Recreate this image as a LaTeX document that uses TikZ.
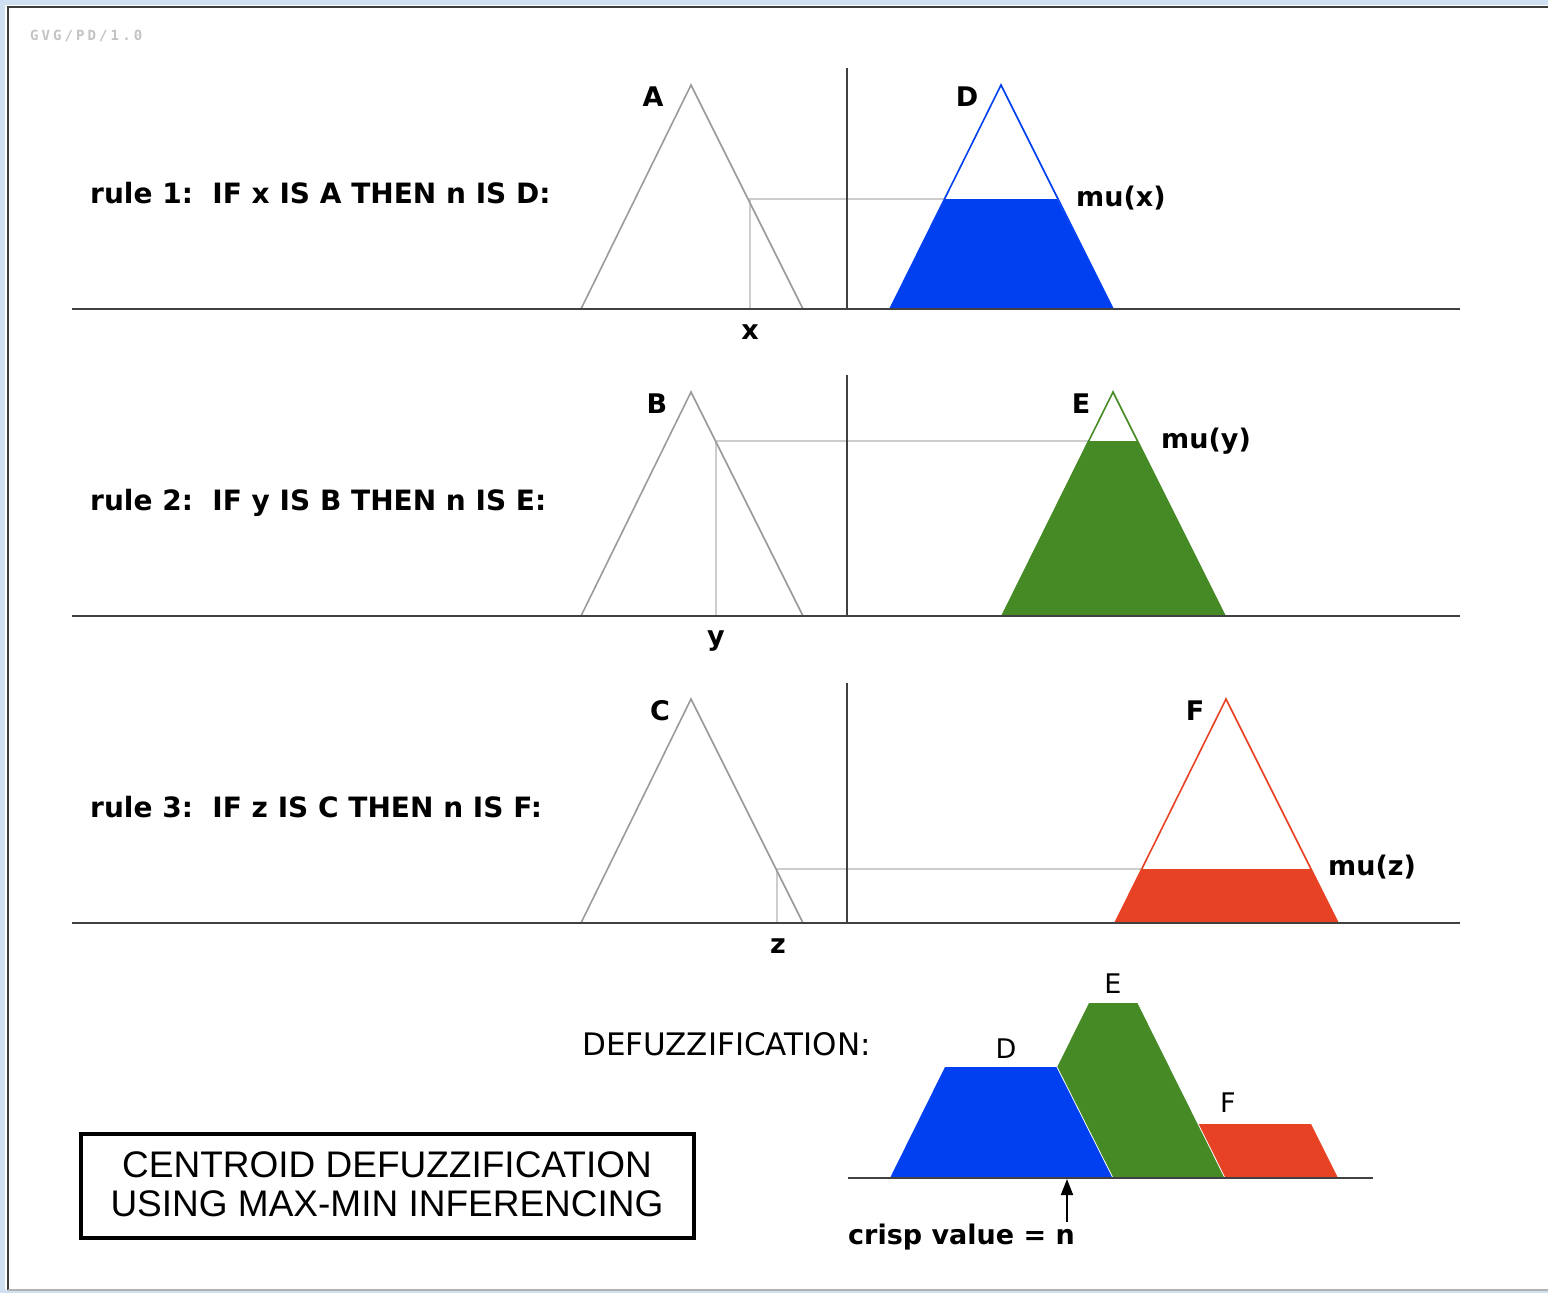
\documentclass[tikz,border=0pt]{standalone}
\usepackage{fontspec}
\setmainfont{DejaVu Sans}
\newfontfamily\boxfont{Liberation Sans}
\newfontfamily\stampfont[LetterSpace=22]{DejaVu Sans Mono}
\usetikzlibrary{arrows.meta}

\definecolor{fzblue}{RGB}{0,64,240}
\definecolor{fzgreen}{RGB}{70,138,38}
\definecolor{fzred}{RGB}{232,66,36}
\definecolor{winblue}{RGB}{207,224,243}
\definecolor{framegray}{RGB}{60,60,60}
\definecolor{axisgray}{RGB}{65,65,65}
\definecolor{setgray}{RGB}{155,155,155}
\definecolor{projgray}{RGB}{205,205,205}
\definecolor{stampgray}{RGB}{195,195,195}

\begin{document}
\begin{tikzpicture}[x=1pt,y=-1pt,
  lbl/.style={font=\fontsize{27}{32}\selectfont\bfseries, inner sep=0pt, anchor=base},
  lblw/.style={lbl, anchor=base west},
  rulelbl/.style={lblw, font=\fontsize{28}{32}\selectfont\bfseries},
  axis/.style={draw=axisgray, line width=2.5pt},
  divider/.style={draw=axisgray, line width=2.8pt},
  setline/.style={draw=setgray, line width=1.6pt, line join=miter},
  proj/.style={draw=projgray, line width=1.6pt},
  outline/.style={line width=1.6pt, line join=miter},
]
% window background and frame
\useasboundingbox (0,0) rectangle (1548,1293);
\fill[winblue] (0,0) rectangle (1548,1293);
\fill[white] (5,5) rectangle (1548,1290);
\draw[framegray, line width=2.2pt] (8,1290) -- (8,7) -- (1548,7);
\draw[gray!60, line width=1.2pt] (8,1290) -- (1548,1290);
\node[font=\stampfont\bfseries\fontsize{14}{16}\selectfont, text=stampgray, inner sep=0pt, anchor=base west] (stamp) at (30,40) {GVG/PD/1.0};

% ---------------- rule 1 ----------------
\coordinate (x1) at (750,309);
\coordinate (x1top) at (750,199);
\coordinate (mu1) at (945,199);
\draw[proj] (x1) -- (x1top) -- (mu1);
\fill[fzblue] (890,309) -- (945,199) -- (1057,199) -- (1113,309) -- cycle;
\draw[fzblue, outline] (890,309) -- (1001,85) -- (1113,309);
\draw[setline] (581,309) -- (691,85) -- (803,309);
\coordinate (d1t) at (847,68); \coordinate (d1b) at (847,309);
\draw[divider] (d1t) -- (d1b);
\coordinate (b1l) at (72,309); \coordinate (b1r) at (1460,309);
\draw[axis] (b1l) -- (b1r);
\node[rulelbl] (rule1) at (90,203) {rule 1:\ \ IF x IS A THEN n IS D:};
\node[lbl] (setA) at (653,106) {A};
\node[lbl] (setD) at (967,106) {D};
\node[lblw] (mux) at (1076,206) {mu(x)};
\node[lbl] (inx) at (750,339) {x};

% ---------------- rule 2 ----------------
\coordinate (y2) at (716,616);
\coordinate (y2top) at (716,441);
\coordinate (mu2) at (1088,441);
\draw[proj] (y2) -- (y2top) -- (mu2);
\fill[fzgreen] (1002,616) -- (1088,441) -- (1138,441) -- (1225,616) -- cycle;
\draw[fzgreen, outline] (1002,616) -- (1113,392) -- (1225,616);
\draw[setline] (581,616) -- (691,392) -- (803,616);
\coordinate (d2t) at (847,375); \coordinate (d2b) at (847,616);
\draw[divider] (d2t) -- (d2b);
\coordinate (b2l) at (72,616); \coordinate (b2r) at (1460,616);
\draw[axis] (b2l) -- (b2r);
\node[rulelbl] (rule2) at (90,510) {rule 2:\ \ IF y IS B THEN n IS E:};
\node[lbl] (setB) at (657,413) {B};
\node[lbl] (setE) at (1081,413) {E};
\node[lblw] (muy) at (1161,448) {mu(y)};
\node[lbl] (iny) at (716,645) {y};

% ---------------- rule 3 ----------------
\coordinate (z3) at (777,923);
\coordinate (z3top) at (777,869);
\coordinate (mu3) at (1142,869);
\draw[proj] (z3) -- (z3top) -- (mu3);
\fill[fzred] (1115,923) -- (1142,869) -- (1311,869) -- (1338,923) -- cycle;
\draw[fzred, outline] (1115,923) -- (1226,699) -- (1338,923);
\draw[setline] (581,923) -- (691,699) -- (803,923);
\coordinate (d3t) at (847,683); \coordinate (d3b) at (847,923);
\draw[divider] (d3t) -- (d3b);
\coordinate (b3l) at (72,923); \coordinate (b3r) at (1460,923);
\draw[axis] (b3l) -- (b3r);
\node[rulelbl] (rule3) at (90,817) {rule 3:\ \ IF z IS C THEN n IS F:};
\node[lbl] (setC) at (660,720) {C};
\node[lbl] (setF) at (1195,720) {F};
\node[lblw] (muz) at (1328,875) {mu(z)};
\node[lbl] (inz) at (778,953) {z};

% ---------------- defuzzification ----------------
\fill[fzred] (1115,1178) -- (1142,1124) -- (1311,1124) -- (1338,1178) -- cycle;
\fill[fzgreen] (1002,1178) -- (1089,1003) -- (1138,1003) -- (1225,1178) -- cycle;
\draw[white, line width=0.8pt] (1138,1003) -- (1225,1178);
\fill[fzblue] (890,1178) -- (945,1067) -- (1057,1067) -- (1113,1178) -- cycle;
\draw[white, line width=0.8pt] (1057,1067) -- (1113,1178);
\coordinate (dbl) at (848,1178); \coordinate (dbr) at (1373,1178);
\draw[axis] (dbl) -- (dbr);
\coordinate (crisp) at (1067,1179);
\coordinate (crispfoot) at (1067,1222);
\draw[line width=1.8pt, -{Triangle[length=16pt, width=12pt]}] (crispfoot) -- (crisp);
\node[font=\fontsize{31}{36}\selectfont, inner sep=0pt, anchor=base west] (defz) at (582,1055) {DEFUZZIFICATION:};
\node[font=\fontsize{27}{32}\selectfont, inner sep=0pt, anchor=base] (outD) at (1006,1058) {D};
\node[font=\fontsize{27}{32}\selectfont, inner sep=0pt, anchor=base] (outE) at (1113,993) {E};
\node[font=\fontsize{27}{32}\selectfont, inner sep=0pt, anchor=base] (outF) at (1228,1112) {F};
\node[lblw] (crisplbl) at (848,1244) {crisp value = n};

% ---------------- title box ----------------
\draw[black, line width=3.4pt] (81,1134) rectangle (694,1238);
\node[font=\boxfont\fontsize{37}{39}\selectfont, inner sep=0pt, anchor=base] (title1) at (387,1177) {CENTROID DEFUZZIFICATION};
\node[font=\boxfont\fontsize{37}{39}\selectfont, inner sep=0pt, anchor=base] (title2) at (387,1216) {USING MAX-MIN INFERENCING};
\end{tikzpicture}
\end{document}
